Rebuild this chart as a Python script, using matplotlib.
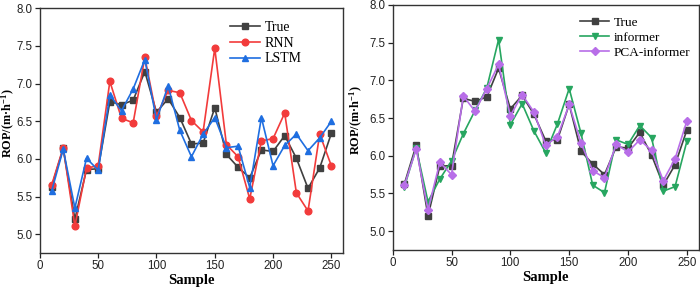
import numpy as np
import matplotlib
matplotlib.use("Agg")
import matplotlib.pyplot as plt

# 数据
sample = [10, 20, 30, 40, 50, 60, 70, 80, 90, 100, 110, 120, 130,
          140, 150, 160, 170, 180, 190, 200, 210, 220, 230, 240, 250]
true_rop = [5.63, 6.14, 5.20, 5.86, 5.87, 6.76, 6.72, 6.78, 7.16, 6.62, 6.80, 6.55, 6.20,
            6.21, 6.68, 6.06, 5.89, 5.75, 6.12, 6.10, 6.31, 6.01, 5.61, 5.88, 6.34]
rnn_rop = [5.65, 6.15, 5.11, 5.88, 5.91, 7.03, 6.54, 6.48, 7.35, 6.57, 6.91, 6.88, 6.51,
           6.36, 7.47, 6.19, 6.03, 5.47, 6.24, 6.27, 6.61, 5.55, 5.31, 6.33, 5.91]
lstm_rop = [5.57, 6.13, 5.35, 6.01, 5.85, 6.85, 6.64, 6.93, 7.32, 6.52, 6.97, 6.38, 6.03,
            6.33, 6.55, 6.15, 6.17, 5.62, 6.55, 5.91, 6.18, 6.33, 6.11, 6.28, 6.50]
informer_rop = [5.59, 6.10, 5.39, 5.69, 5.93, 6.29, 6.60, 6.90, 7.54, 6.41, 6.69, 6.33, 6.04,
                6.42, 6.89, 6.30, 5.61, 5.51, 6.21, 6.15, 6.40, 6.24, 5.53, 5.59, 6.19]
pca_informer_rop = [5.61, 6.09, 5.28, 5.91, 5.75, 6.79, 6.59, 6.89, 7.21, 6.53, 6.81, 6.58, 6.14,
                    6.25, 6.68, 6.17, 5.80, 5.71, 6.15, 6.05, 6.21, 6.07, 5.67, 5.96, 6.46]

serif = 'Liberation Serif'
sans = 'Liberation Sans'

plt.rcParams['mathtext.fontset'] = 'custom'
plt.rcParams['mathtext.rm'] = serif
plt.rcParams['mathtext.bf'] = serif + ':bold'
plt.rcParams['mathtext.default'] = 'bf'

fig = plt.figure(figsize=(7, 2.87), dpi=100)
ax1 = fig.add_axes([0.057, 0.118, 0.433, 0.853])
ax2 = fig.add_axes([0.561, 0.129, 0.437, 0.854])


def style_axes(ax, label_x):
    ax.set_xlim(0, 260)
    ax.set_ylim(4.75, 8.0)
    ax.set_xticks([0, 50, 100, 150, 200, 250])
    ax.set_yticks([5.0, 5.5, 6.0, 6.5, 7.0, 7.5, 8.0])
    ax.set_yticklabels(['5.0', '5.5', '6.0', '6.5', '7.0', '7.5', '8.0'])
    ax.tick_params(axis='both', direction='out', length=3.5, width=0.9,
                   labelsize=8.3, pad=1.8, colors='#222222')
    for lab in ax.get_xticklabels() + ax.get_yticklabels():
        lab.set_fontfamily(sans)
    for sp in ax.spines.values():
        sp.set_linewidth(1.0)
        sp.set_color('#333333')
    ax.set_xlabel('Sample', fontfamily=serif, fontweight='bold', fontsize=10.5, labelpad=1)
    ax.set_ylabel('ROP/(m·h$^{-1}$)', fontfamily=serif, fontweight='bold', fontsize=8.8)
    ax.yaxis.set_label_coords(label_x, 0.53)


kw = dict(linewidth=1.2, markersize=4.8)

# 左图
ax1.plot(sample, true_rop, color='#404040', marker='s', label='True', **kw)
ax1.plot(sample, rnn_rop, color='#f23b3b', marker='o', label='RNN', **kw)
ax1.plot(sample, lstm_rop, color='#1f6ee0', marker='^', label='LSTM', **kw)
style_axes(ax1, -0.077)
ax1.legend(loc='upper left', bbox_to_anchor=(0.585, 1.0), frameon=False,
           prop={'family': serif, 'size': 10}, handlelength=2.2,
           handletextpad=0.3, labelspacing=0.2)

# 右图
ax2.plot(sample, true_rop, color='#404040', marker='s', label='True', **kw)
ax2.plot(sample, informer_rop, color='#27a660', marker='v', label='informer', **kw)
ax2.plot(sample, pca_informer_rop, color='#b86ee8', marker='D', label='PCA-informer',
         linewidth=1.2, markersize=4.4)
style_axes(ax2, -0.090)
ax2.legend(loc='upper left', bbox_to_anchor=(0.575, 1.0), frameon=False,
           prop={'family': serif, 'size': 9.5}, handlelength=2.2,
           handletextpad=0.3, labelspacing=0.2)

fig.savefig('out.png', dpi=100)
